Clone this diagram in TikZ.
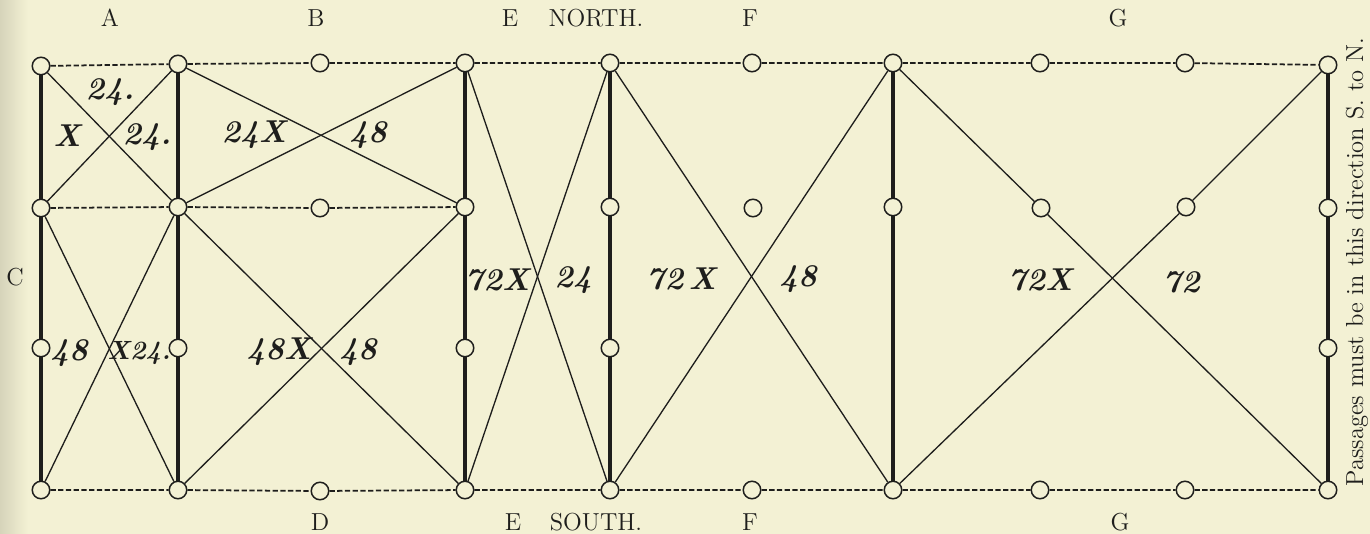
\documentclass[tikz,border=0pt]{standalone}
\usepackage{tikz}
\usetikzlibrary{positioning}
\definecolor{paperCream}{RGB}{243,241,212}
\definecolor{paperEdge}{RGB}{214,212,186}
\definecolor{inkDark}{RGB}{30,30,28}

\begin{document}
\begin{tikzpicture}[
        x=0.02cm, y=-0.02cm,
        peg/.style={circle, draw=inkDark, fill=paperCream, line width=0.85pt, minimum size=0.35cm, inner sep=0pt},
        rail/.style={draw=inkDark, line width=2.8pt},
        track/.style={draw=inkDark, line width=0.75pt},
        walk/.style={draw=inkDark, line width=1pt, dash pattern=on 3pt off 1.4pt},
        tally/.style={font=\fontsize{18pt}{20pt}\selectfont\bfseries\itshape, text=inkDark, inner sep=0pt},
        heading/.style={font=\fontsize{14pt}{16pt}\selectfont, text=inkDark, inner sep=0pt}
    ]
        % paper
        \fill[paperCream] (0,0) rectangle (1370,534);
        \shade[left color=paperEdge, right color=paperCream] (0,0) rectangle (28,534);
        \useasboundingbox (0,0) rectangle (1370,534);

        % Pegs, column by column
        \node[peg] (t1) at (41,66) {};
        \node[peg] (m1) at (41,208) {};
        \node[peg] (l1) at (41,348) {};
        \node[peg] (b1) at (41,490) {};
        \node[peg] (t2) at (178,64) {};
        \node[peg] (m2) at (178,207) {};
        \node[peg] (l2) at (178,348) {};
        \node[peg] (b2) at (178,490) {};
        \node[peg] (t3) at (320,63) {};
        \node[peg] (m3) at (320,208) {};
        \node[peg] (b3) at (320,491) {};
        \node[peg] (t4) at (465,63) {};
        \node[peg] (m4) at (465,207) {};
        \node[peg] (l4) at (465,348) {};
        \node[peg] (b4) at (465,490) {};
        \node[peg] (t5) at (610,63) {};
        \node[peg] (m5) at (610,207) {};
        \node[peg] (l5) at (610,348) {};
        \node[peg] (b5) at (610,490) {};
        \node[peg] (t6) at (752,63) {};
        \node[peg] (m6) at (753,208) {};
        \node[peg] (b6) at (752,490) {};
        \node[peg] (t7) at (893,63) {};
        \node[peg] (m7) at (893,207) {};
        \node[peg] (b7) at (893,490) {};
        \node[peg] (t8) at (1040,63) {};
        \node[peg] (m8) at (1041,208) {};
        \node[peg] (b8) at (1040,490) {};
        \node[peg] (t9) at (1185,63) {};
        \node[peg] (m9) at (1186,207) {};
        \node[peg] (b9) at (1185,490) {};
        \node[peg] (t10) at (1328,65) {};
        \node[peg] (m10) at (1328,208) {};
        \node[peg] (l10) at (1328,348) {};
        \node[peg] (b10) at (1328,490) {};

        % North, middle and south walks
        \draw[walk] (t1) -- (t2) -- (t3) -- (t4) -- (t5) -- (t6) -- (t7) -- (t8) -- (t9) -- (t10);
        \draw[walk] (m1) -- (m2) -- (m3) -- (m4);
        \draw[walk] (b1) -- (b2) -- (b3) -- (b4) -- (b5) -- (b6) -- (b7) -- (b8) -- (b9) -- (b10);

        % Heavy rails
        \draw[rail] (t1) -- (m1) -- (l1) -- (b1);
        \draw[rail] (t2) -- (m2) -- (l2) -- (b2);
        \draw[rail] (t4) -- (m4) -- (l4) -- (b4);
        \draw[rail] (t5) -- (m5) -- (l5) -- (b5);
        \draw[rail] (t7) -- (m7) -- (b7);
        \draw[rail] (t10) -- (m10) -- (l10) -- (b10);

        % Crossings A and C
        \draw[track] (t1) -- (m2);
        \draw[track] (t2) -- (m1);
        \draw[track] (m1) -- (b2);
        \draw[track] (m2) -- (b1);
        % Crossings B
        \draw[track] (t2) -- (m4);
        \draw[track] (t4) -- (m2);
        \draw[track] (m2) -- (b4);
        \draw[track] (m4) -- (b2);
        % Crossing E
        \draw[track] (t4) -- (b5);
        \draw[track] (t5) -- (b4);
        % Crossing F
        \draw[track] (t5) -- (b7);
        \draw[track] (t7) -- (b5);
        % Crossing G
        \draw[track] (t7) -- (m8) -- (b10);
        \draw[track] (t10) -- (m9) -- (b7);

        % Figures
        \node[tally] (nA1) at (110,92) {24.};
        \node[tally] (nA2) at (67,136) {X};
        \node[tally] (nA3) at (147,137) {24.};
        \node[tally] (nC1) at (69,353) {48};
        \node[tally, font=\fontsize{15pt}{17pt}\selectfont\bfseries\itshape] (nC2) at (139,353) {X24.};
        \node[tally] (nB1) at (254,135) {24X};
        \node[tally] (nB2) at (368,135) {48};
        \node[tally] (nD1) at (279,352) {48X};
        \node[tally] (nD2) at (358,352) {48};
        \node[tally] (nE1) at (497,280) {72X};
        \node[tally] (nE2) at (573,280) {24};
        \node[tally] (nF1) at (681,279) {72\thinspace X};
        \node[tally] (nF2) at (798,279) {48};
        \node[tally] (nG1) at (1040,280) {72X};
        \node[tally] (nG2) at (1181,282) {72};

        % Letters
        \node[heading] (hA) at (110,18) {A};
        \node[heading] (hB) at (316,18) {B};
        \node[heading] (hE) at (510,18) {E};
        \node[heading] (hN) at (596,18) {NORTH.};
        \node[heading] (hF) at (750,18) {F};
        \node[heading] (hG) at (1118,18) {G};
        \node[heading] (hC) at (15,277) {C};
        \node[heading] (hD) at (320,522) {D};
        \node[heading] (hE2) at (513,522) {E};
        \node[heading] (hS) at (596,522) {SOUTH.};
        \node[heading] (hF2) at (750,522) {F};
        \node[heading] (hG2) at (1120,522) {G};
        \node[heading, rotate=90] (note) at (1357,262) {Passages must be in this direction S. to N.};
    \end{tikzpicture}
\end{document}
